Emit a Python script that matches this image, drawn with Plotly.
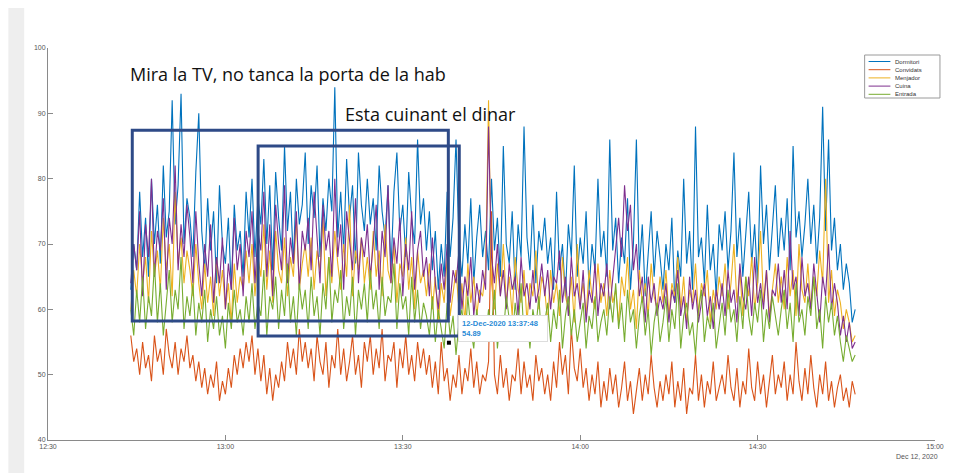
import pandas as pd
import plotly.graph_objects as go

# ---------------- data (30 s sampling) ----------------
start_time = "2020-12-12 12:44:00"
step = "30s"

series_names = ["Dormitori", "Convidats", "Menjador", "Cuina", "Entrada"]
series_colors = ["#0072BD", "#D95319", "#EDB120", "#7E2F8E", "#77AC30"]

dormitori = [
    63, 70, 66, 78, 68, 74, 65, 80, 70, 76, 67, 82, 71, 75, 92, 73, 79, 93, 70, 77,
    74, 68, 81, 90, 72, 66, 77, 69, 75, 64, 79, 70, 67, 74, 63, 76, 69, 72, 65, 78,
    71, 80, 68, 77, 73, 83, 70, 79, 66, 81, 74, 69, 85, 72, 78, 67, 80, 73, 76, 84,
    70, 79, 74, 82, 68, 77, 72, 80, 75, 94, 71, 78, 69, 83, 74, 79, 67, 84, 76, 72,
    80, 73, 77, 69, 82, 75, 71, 79, 66, 78, 84, 72, 76, 68, 81, 74, 70, 86, 73, 77,
    69, 75, 66, 72, 63, 70, 65, 78, 68, 74, 86, 70, 65, 73, 67, 77, 64, 71, 76, 68,
    72, 66, 80, 69, 74, 65, 85, 70, 67, 75, 63, 73, 68, 88, 71, 66, 76, 64, 72, 69,
    74, 67, 71, 63, 78, 66, 70, 62, 73, 68, 82, 65, 71, 67, 75, 63, 70, 66, 80, 68,
    72, 65, 86, 69, 74, 64, 71, 67, 77, 63, 70, 86, 66, 73, 62, 69, 75, 65, 72, 68,
    63, 70, 66, 74, 61, 69, 65, 80, 67, 72, 63, 88, 68, 71, 64, 76, 66, 70, 62, 73,
    69, 75, 66, 72, 84, 68, 74, 65, 71, 78, 67, 73, 64, 82, 70, 76, 66, 72, 79, 68,
    74, 69, 77, 66, 85, 71, 75, 68, 73, 80, 70, 76, 67, 74, 91, 72, 86, 69, 74, 66,
    70, 63, 67, 64, 58, 60,
]

convidats = [
    56, 52, 54, 50, 55, 51, 53, 49, 56, 52, 54, 50, 57, 53, 51, 55, 50, 54, 52, 56,
    51, 53, 49, 52, 48, 51, 47, 50, 48, 52, 46, 49, 47, 51, 48, 53, 50, 54, 51, 55,
    52, 56, 50, 54, 49, 53, 47, 51, 46, 50, 48, 52, 49, 55, 51, 54, 50, 57, 52, 55,
    51, 54, 49, 56, 52, 50, 55, 48, 53, 51, 57, 50, 54, 49, 52, 56, 50, 53, 48, 55,
    52, 56, 50, 54, 51, 57, 49, 53, 52, 55, 48, 54, 51, 56, 50, 53, 49, 55, 51, 54,
    50, 53, 48, 52, 47, 55, 49, 51, 46, 50, 48, 53, 47, 51, 49, 54, 48, 52, 47, 50,
    49, 52, 75, 50, 47, 53, 48, 51, 46, 50, 49, 54, 47, 52, 48, 50, 46, 53, 49, 51,
    47, 50, 46, 52, 48, 55, 50, 53, 47, 57, 51, 49, 54, 48, 51, 46, 50, 47, 52, 45,
    49, 46, 51, 47, 50, 45, 48, 52, 46, 49, 44, 48, 51, 46, 50, 47, 53, 48, 45, 49,
    46, 50, 47, 52, 45, 49, 46, 51, 44, 48, 47, 53, 46, 50, 45, 49, 47, 52, 46, 48,
    50, 47, 53, 48, 46, 51, 45, 49, 47, 54, 48, 46, 52, 47, 50, 45, 49, 53, 47, 50,
    48, 52, 46, 50, 47, 55, 49, 46, 51, 47, 53, 48, 45, 50, 47, 52, 46, 49, 45, 48,
    50, 46, 48, 45, 49, 47,
]

menjador = [
    60, 66, 62, 70, 64, 68, 61, 72, 65, 69, 63, 74, 66, 70, 62, 78, 67, 71, 64, 69,
    66, 62, 70, 64, 60, 67, 61, 65, 59, 68, 62, 66, 60, 64, 58, 67, 61, 65, 63, 69,
    64, 70, 62, 68, 65, 73, 63, 69, 61, 72, 66, 64, 71, 62, 68, 65, 74, 63, 67, 70,
    65, 71, 63, 69, 66, 74, 62, 68, 64, 72, 67, 63, 70, 65, 76, 62, 69, 66, 71, 64,
    68, 63, 72, 65, 69, 62, 73, 66, 64, 70, 61, 67, 65, 71, 63, 68, 60, 69, 64, 66,
    62, 67, 60, 65, 58, 64, 61, 68, 59, 63, 66, 60, 64, 58, 67, 61, 65, 59, 63, 62,
    66, 92, 64, 60, 67, 62, 70, 61, 65, 59, 68, 63, 61, 66, 58, 64, 62, 69, 60, 65,
    63, 58, 66, 61, 64, 59, 68, 62, 60, 65, 58, 70, 61, 64, 59, 66, 62, 60, 67, 61,
    64, 59, 66, 61, 63, 58, 65, 62, 68, 60, 63, 57, 66, 61, 64, 59, 67, 62, 60, 65,
    61, 66, 59, 64, 62, 68, 60, 65, 58, 63, 61, 67, 59, 64, 62, 66, 58, 63, 60, 65,
    62, 67, 60, 64, 70, 61, 66, 59, 65, 62, 68, 60, 64, 72, 61, 66, 59, 63, 67, 61,
    65, 60, 68, 62, 66, 59, 70, 63, 61, 67, 60, 65, 62, 69, 64, 80, 61, 66, 59, 63,
    61, 57, 60, 58, 55, 56,
]

cuina = [
    64, 70, 66, 75, 62, 73, 68, 80, 65, 72, 69, 77, 63, 74, 70, 82, 66, 73, 68, 76,
    71, 64, 75, 67, 62, 70, 65, 73, 61, 68, 64, 71, 60, 67, 63, 74, 66, 70, 62, 72,
    68, 75, 64, 72, 69, 78, 65, 73, 62, 76, 70, 66, 79, 64, 71, 67, 75, 63, 72, 69,
    74, 66, 78, 70, 64, 76, 69, 72, 65, 80, 68, 73, 63, 75, 70, 66, 77, 64, 71, 68,
    73, 65, 70, 76, 63, 72, 68, 79, 64, 71, 67, 74, 62, 70, 66, 75, 63, 69, 72, 65,
    68, 62, 71, 64, 60, 67, 63, 70, 61, 66, 64, 69, 60, 65, 62, 68, 59, 64, 61, 66,
    63, 88, 68, 64, 70, 62, 66, 60, 67, 63, 65, 59, 68, 62, 64, 60, 66, 61, 63, 67,
    62, 66, 60, 65, 64, 69, 61, 65, 59, 68, 62, 64, 60, 66, 58, 63, 61, 67, 59, 64,
    62, 67, 60, 65, 70, 74, 68, 79, 72, 76, 66, 70, 62, 65, 58, 65, 61, 64, 59, 62,
    60, 64, 58, 63, 61, 66, 59, 62, 57, 65, 60, 63, 58, 61, 64, 59, 62, 57, 63, 60,
    64, 59, 66, 61, 63, 58, 67, 62, 60, 65, 59, 68, 61, 64, 60, 66, 58, 63, 62, 67,
    61, 66, 60, 72, 63, 65, 59, 68, 62, 64, 60, 67, 63, 58, 65, 62, 70, 60, 64, 61,
    56, 59, 55, 58, 54, 55,
]

entrada = [
    60, 56, 63, 58, 65, 57, 62, 59, 67, 58, 64, 56, 61, 66, 58, 63, 60, 68, 57, 62,
    59, 64, 56, 61, 58, 63, 55, 60, 57, 62, 56, 59, 54, 61, 57, 63, 58, 60, 56, 62,
    58, 64, 57, 61, 59, 66, 56, 62, 60, 65, 57, 63, 59, 67, 58, 62, 56, 64, 60, 63,
    57, 65, 59, 62, 56, 64, 60, 68, 58, 63, 61, 66, 57, 62, 59, 65, 56, 63, 60, 64,
    58, 66, 60, 63, 57, 65, 59, 62, 61, 67, 57, 64, 60, 62, 56, 65, 58, 63, 57, 61,
    59, 56, 62, 55, 60, 57, 54, 61, 56, 59, 53, 58, 60, 55, 62, 57, 54, 60, 56, 58,
    55, 60, 57, 63, 54, 59, 56, 62, 58, 55, 61, 57, 64, 56, 59, 54, 60, 57, 62, 55,
    58, 61, 55, 60, 57, 63, 54, 59, 62, 56, 60, 55, 58, 61, 54, 59, 57, 62, 55, 58,
    60, 56, 62, 58, 64, 57, 61, 55, 63, 58, 60, 54, 59, 62, 56, 60, 53, 58, 61, 55,
    58, 62, 55, 60, 57, 64, 54, 59, 61, 56, 58, 53, 60, 63, 55, 59, 57, 61, 54, 58,
    61, 56, 63, 58, 60, 55, 62, 57, 65, 59, 56, 61, 58, 63, 55, 60, 57, 62, 59, 56,
    60, 63, 57, 61, 55, 64, 58, 60, 56, 62, 59, 65, 57, 60, 54, 62, 58, 61, 56, 59,
    55, 52, 56, 54, 52, 53,
]

all_series = [dormitori, convidats, menjador, cuina, entrada]

x_tick_vals = ["2020-12-12 12:30", "2020-12-12 13:00", "2020-12-12 13:30",
               "2020-12-12 14:00", "2020-12-12 14:30", "2020-12-12 15:00"]
x_tick_text = ["12:30", "13:00", "13:30", "14:00", "14:30", "15:00"]
y_tick_vals = [40, 50, 60, 70, 80, 90, 100]

datatip_time = "2020-12-12 13:37:48"
datatip_value = 54.89

# ---------------- geometry helpers (page pixels -> plot-area paper coords) ----
PX0, PX1, PY0, PY1 = 48, 943, 48, 440   # plot area in page pixels


def px(x):
    return (x - PX0) / (PX1 - PX0)


def py(y):
    return (PY1 - y) / (PY1 - PY0)


# ---------------- figure ----------------
fig = go.Figure()
for name, color, vals in zip(series_names, series_colors, all_series):
    times = pd.date_range(start_time, periods=len(vals), freq=step)
    fig.add_trace(go.Scatter(x=times, y=vals, mode="lines", name=name,
                             line=dict(color=color, width=1.1), showlegend=False))

# datatip marker
fig.add_trace(go.Scatter(x=[datatip_time], y=[datatip_value], mode="markers",
                         marker=dict(color="black", size=4, symbol="square"),
                         showlegend=False, hoverinfo="skip"))

box_color = "#2E4A87"
fig.add_shape(type="rect", xref="x", yref="y",
              x0="2020-12-12 12:44:15", x1="2020-12-12 13:37:42", y0=58.2, y1=87.4,
              line=dict(color=box_color, width=3), fillcolor="rgba(0,0,0,0)")
fig.add_shape(type="rect", xref="x", yref="y",
              x0="2020-12-12 13:05:32", x1="2020-12-12 13:39:33", y0=55.9, y1=85.0,
              line=dict(color=box_color, width=3), fillcolor="rgba(0,0,0,0)")

# faint slide background at far left
fig.add_shape(type="rect", xref="paper", yref="paper", layer="below",
              x0=px(8), x1=px(24), y0=py(473), y1=py(8),
              fillcolor="#eeeeee", line=dict(width=0))

fig.add_annotation(text="Mira la TV, no tanca la porta de la hab",
                   xref="paper", yref="paper", x=px(129), y=py(74),
                   xanchor="left", yanchor="middle", showarrow=False,
                   font=dict(family="Open Sans", size=18, color="#111111"))
fig.add_annotation(text="Esta cuinant el dinar",
                   xref="paper", yref="paper", x=px(346), y=py(114),
                   xanchor="left", yanchor="middle", showarrow=False,
                   font=dict(family="Open Sans", size=18, color="#111111"))

# datatip box
fig.add_annotation(text=f"<b>12-Dec-2020 13:37:48   <br>{datatip_value:.2f}</b>",
                   xref="paper", yref="paper", x=px(462), y=py(328),
                   xanchor="left", yanchor="middle", showarrow=False, align="left",
                   bgcolor="white", bordercolor="#dddddd", borderwidth=1, borderpad=3,
                   font=dict(family="Liberation Sans", size=7.5, color="#2A8BD6"))

fig.add_annotation(text="Dec 12, 2020", xref="paper", yref="paper", x=px(948), y=py(451),
                   xanchor="right", yanchor="top", showarrow=False,
                   font=dict(family="Liberation Sans", size=7, color="#555555"))

# manual legend (compact, MATLAB-like)
fig.add_shape(type="rect", xref="paper", yref="paper",
              x0=px(872), x1=px(948), y0=py(98), y1=py(55),
              fillcolor="white", line=dict(color="#9a9a9a", width=1))
for i, (name, color) in enumerate(zip(series_names, series_colors)):
    yy = 61.5 + i * 8.2
    fig.add_shape(type="line", xref="paper", yref="paper",
                  x0=px(876), x1=px(898), y0=py(yy), y1=py(yy),
                  line=dict(color=color, width=1))
    fig.add_annotation(text=name, xref="paper", yref="paper", x=px(901), y=py(yy),
                       xanchor="left", yanchor="middle", showarrow=False,
                       font=dict(family="Liberation Sans", size=6, color="#333333"))

fig.update_layout(
    width=948, height=465,
    margin=dict(l=40, r=13, t=40, b=33),
    paper_bgcolor="white", plot_bgcolor="white",
    font=dict(family="Liberation Sans", size=7, color="#555555"),
    showlegend=False,
    hovermode=False,
)
fig.update_xaxes(range=["2020-12-12 12:30", "2020-12-12 15:00"],
                 tickvals=x_tick_vals, ticktext=x_tick_text,
                 showgrid=False, zeroline=False, showline=True, linecolor="#8a8a8a",
                 linewidth=1, ticks="inside", ticklen=5, tickcolor="#8a8a8a")
fig.update_yaxes(range=[40, 100], tickvals=y_tick_vals,
                 showgrid=False, zeroline=False, showline=True, linecolor="#8a8a8a",
                 linewidth=1, ticks="inside", ticklen=5, tickcolor="#8a8a8a")

fig.write_html("out.html")
